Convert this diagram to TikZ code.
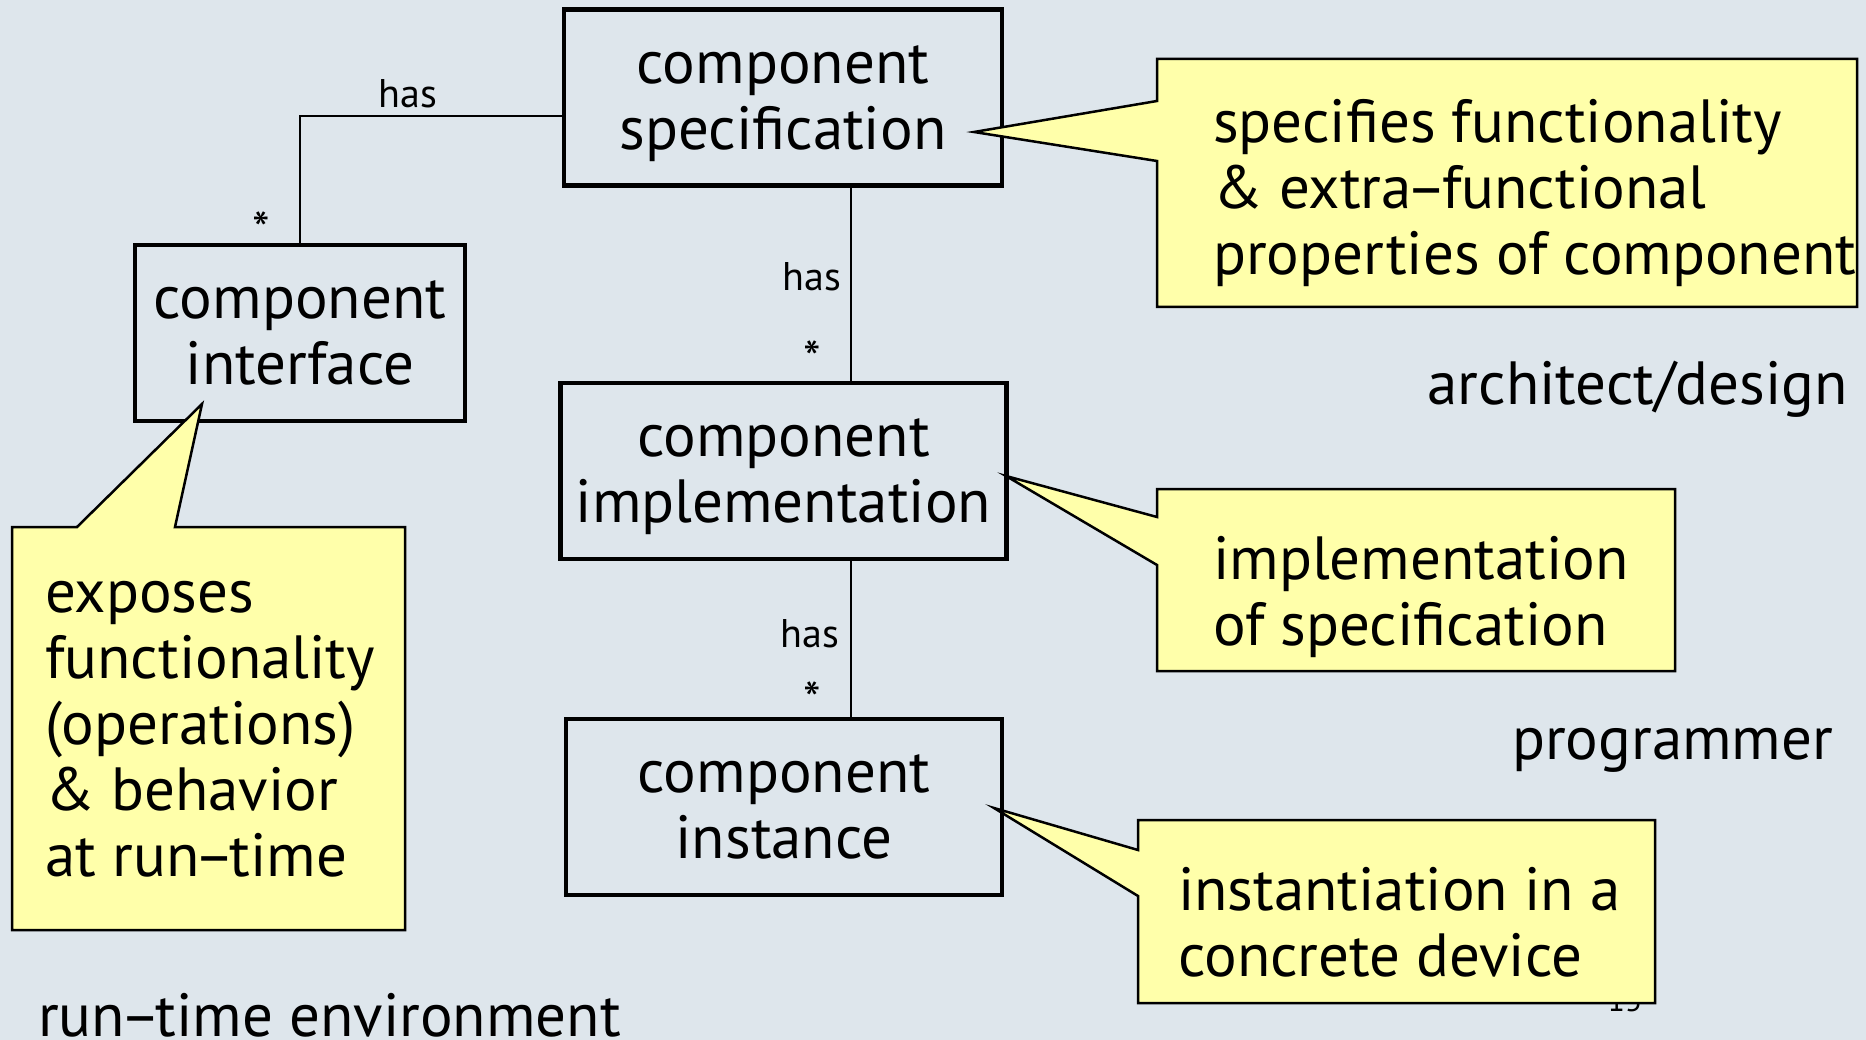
\documentclass[tikz,border=0pt]{standalone}
\usepackage{fontspec}
\setmainfont{PT Sans}
\usetikzlibrary{calc}
\definecolor{slide}{RGB}{222,230,236}
\definecolor{notefill}{RGB}{255,255,170}
% a tighter en dash for compound words
\newcommand\tdash{\kern-5pt–\kern-5pt}
\begin{document}
\begin{tikzpicture}[x=1pt,y=-1pt,
  every node/.style={inner sep=0pt},
  entity/.style={draw=black,line width=4.5pt,align=center,text depth=0pt,font=\fontsize{61}{66}\selectfont},
  note/.style={draw=black,fill=notefill,line width=2.5pt,line join=miter},
  notetext/.style={anchor=base west,align=left,font=\fontsize{61}{66}\selectfont},
  link/.style={draw=black,line width=2pt},
  role/.style={font=\fontsize{40}{44}\selectfont},
  mult/.style={font=\fontsize{50}{54}\selectfont},
  lane/.style={font=\fontsize{61}{66}\selectfont}]
\fill[slide] (0,0) rectangle (1866,1040);
\useasboundingbox (0,0) rectangle (1866,1040);

% component boxes
\node[entity,minimum width=438pt,minimum height=176pt] (spec) at (783,97.5) {component\\specification};
\node[entity,minimum width=330pt,minimum height=176pt] (iface) at (300,333) {component\\interface};
\node[entity,minimum width=446pt,minimum height=176pt] (impl) at (783.5,471) {component\\implementation};
\node[entity,minimum width=436pt,minimum height=176pt] (inst) at (784,807) {component\\instance};

% associations
\draw[link] ($(spec.west)+(0,19)$) -| (iface.north);
\draw[link] ($(spec.south)+(68,0)$) -- ($(impl.north)+(67.5,0)$);
\draw[link] ($(impl.south)+(67.5,0)$) -- ($(inst.north)+(67,0)$);

\node[role] (has1) at (408,94) {has};
\node[mult] (m1) at (261,230) {*};
\node[role] (has2) at (812,277) {has};
\node[mult] (m2) at (812,359) {*};
\node[role] (has3) at (810,634) {has};
\node[mult] (m3) at (812,700) {*};

% page number, partly hidden by the last note
\node[font=\fontsize{32}{36}\selectfont,anchor=base] (pg) at (1625,1011) {15};

% pointer tips of the notes
\coordinate (specTip) at (974,132);
\coordinate (ifaceTip) at (202,404);
\coordinate (implTip) at (1006,476);
\coordinate (instTip) at (994,808);

% notes
\draw[note] (1157,101) -- (specTip) -- (1157,161) -- (1157,307) -- (1857,307) -- (1857,59) -- (1157,59) -- cycle;
\draw[note] (77,527) -- (ifaceTip) -- (175,527) -- (405,527) -- (405,930) -- (12,930) -- (12,527) -- cycle;
\draw[note] (1157,517) -- (implTip) -- (1157,565) -- (1157,671) -- (1675,671) -- (1675,489) -- (1157,489) -- cycle;
\draw[note] (1138,850) -- (instTip) -- (1138,896) -- (1138,1003) -- (1655,1003) -- (1655,820) -- (1138,820) -- cycle;

% note texts, placed by the baseline of their last line
\node[notetext] (specnote) at (1213,275) {specifies functionality\\\& extra\tdash functional\\properties of component};
\node[notetext] (ifacenote) at (45,876) {exposes\\functionality\\(operations)\\\& behavior\\at run\tdash time};
\node[notetext] (implnote) at (1213,645) {implementation\\of specification};
\node[notetext] (instnote) at (1178,976) {instantiation in a\\concrete device};

% roles
\node[lane,anchor=base east] (arch) at (1848,405) {architect/design};
\node[lane,anchor=base west] (prog) at (1512,759) {programmer};
\node[lane,anchor=base west] (rte) at (38,1036) {run\tdash time environment};
\end{tikzpicture}
\end{document}
